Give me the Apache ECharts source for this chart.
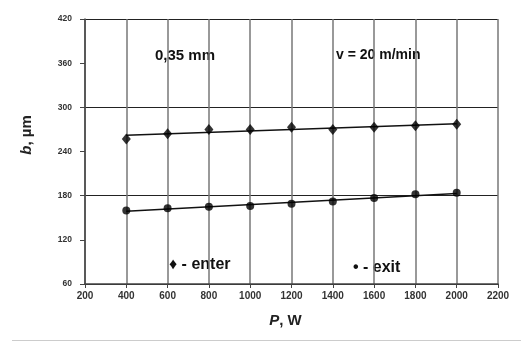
<!DOCTYPE html>
<html><head><meta charset="utf-8">
<script src="https://cdn.jsdelivr.net/npm/echarts@6/dist/echarts.min.js"></script>
<style>html,body{margin:0;padding:0;background:#fff}#c{width:521px;height:341px}</style>
</head><body><div id="c"></div>
<script>
const powers = [400, 600, 800, 1000, 1200, 1400, 1600, 1800, 2000];
const enterVals = [257, 264, 270, 270, 273, 270, 273, 275, 277];
const exitVals = [160, 163, 165, 166, 169, 172, 177, 182, 184];
const xTicks = [200, 400, 600, 800, 1000, 1200, 1400, 1600, 1800, 2000, 2200];
const yTicks = [60, 120, 180, 240, 300, 360, 420];

function fit(xs, ys) {
  const n = xs.length;
  const mx = xs.reduce((a, b) => a + b, 0) / n;
  const my = ys.reduce((a, b) => a + b, 0) / n;
  let sxy = 0, sxx = 0;
  for (let i = 0; i < n; i++) { sxy += (xs[i] - mx) * (ys[i] - my); sxx += (xs[i] - mx) ** 2; }
  const b = sxy / sxx, a = my - b * mx;
  const x0 = xs[0], x1 = xs[n - 1];
  return [[x0, a + b * x0], [x1, a + b * x1]];
}

const font = 'Liberation Sans, Arial, sans-serif';
const chart = echarts.init(document.getElementById('c'));
chart.setOption({
  animation: false,
  grid: { left: 85, right: 23, top: 19, bottom: 57 },
  xAxis: {
    type: 'value', min: xTicks[0], max: xTicks[xTicks.length - 1], interval: 200,
    axisLine: { lineStyle: { color: '#444', width: 1.5 } },
    axisTick: { show: true, length: 4, lineStyle: { color: '#444' } },
    axisLabel: { fontSize: 10, fontWeight: 'bold', color: '#333', fontFamily: font, margin: 7, formatter: v => String(v) },
    splitLine: { show: true, lineStyle: { color: '#777', width: 1.5 } },
    name: '{i|P}, W', nameLocation: 'middle', nameGap: 29,
    nameTextStyle: { fontSize: 15, fontWeight: 'bold', color: '#222', fontFamily: font, padding: [0, 12, 0, 0],
      rich: { i: { fontStyle: 'italic', fontSize: 15, fontWeight: 'bold', fontFamily: font, color: '#222' } } }
  },
  yAxis: [{
    type: 'value', min: yTicks[0], max: yTicks[yTicks.length - 1], interval: 60,
    axisLine: { show: true, lineStyle: { color: '#444', width: 1.5 } },
    axisTick: { show: true, length: 5, lineStyle: { color: '#444' } },
    axisLabel: { fontSize: 8.5, fontWeight: 'bold', color: '#333', fontFamily: font, margin: 13 },
    splitLine: { show: false }
  }, {
    type: 'value', position: 'left', min: 60, max: 420, interval: 120,
    axisLine: { show: false }, axisTick: { show: false }, axisLabel: { show: false },
    splitLine: { show: true, lineStyle: { color: '#222', width: 1.2 } }
  }],
  series: [
    { type: 'line', data: fit(powers, enterVals), symbol: 'none', lineStyle: { color: '#111', width: 1.5 }, z: 3 },
    { type: 'line', data: fit(powers, exitVals), symbol: 'none', lineStyle: { color: '#111', width: 1.5 }, z: 3 },
    { type: 'scatter', data: powers.map((p, i) => [p, enterVals[i]]), symbol: 'diamond', symbolSize: [9, 11], itemStyle: { color: '#000' }, z: 4 },
    { type: 'scatter', data: powers.map((p, i) => [p, exitVals[i]]), symbol: 'circle', symbolSize: 8, itemStyle: { color: '#000' }, z: 4 }
  ],
  graphic: [
    { type: 'text', x: 27, y: 135, rotation: Math.PI / 2, style: {
        text: '{i|b}, µm', align: 'center', verticalAlign: 'middle', font: 'bold 15px ' + font, fill: '#222',
        rich: { i: { fontStyle: 'italic', fontWeight: 'bold', fontSize: 15, fontFamily: font, fill: '#222' } } } },
    { type: 'text', left: 155, top: 48, style: { text: '0,35 mm', font: 'bold 15px ' + font, fill: '#111' } },
    { type: 'text', left: 336, top: 48, style: { text: 'v = 20 m/min', font: 'bold 14px ' + font, fill: '#111' } },
    { type: 'text', left: 169, top: 257, style: { text: '♦ - enter', font: 'bold 16px ' + font, fill: '#111' } },
    { type: 'text', left: 353, top: 260, style: { text: '• - exit', font: 'bold 16px ' + font, fill: '#111' } },
    { type: 'rect', shape: { x: 12, y: 340, width: 509, height: 1 }, style: { fill: '#ccc' } }
  ]
});
</script></body></html>
